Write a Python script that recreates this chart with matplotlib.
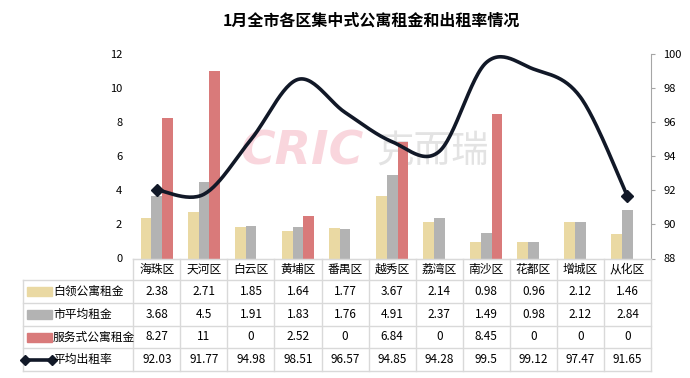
import numpy as np
import matplotlib
matplotlib.use("Agg")
import matplotlib.pyplot as plt
from matplotlib.transforms import blended_transform_factory
from matplotlib.lines import Line2D
from matplotlib.patches import Rectangle

plt.rcParams['font.family'] = ['Noto Sans CJK SC', 'DejaVu Sans']

# ========== 数据 ==========
districts = ["海珠区", "天河区", "白云区", "黄埔区", "番禺区", "越秀区",
             "荔湾区", "南沙区", "花都区", "增城区", "从化区"]
white_collar = [2.38, 2.71, 1.85, 1.64, 1.77, 3.67, 2.14, 0.98, 0.96, 2.12, 1.46]
city_avg = [3.68, 4.5, 1.91, 1.83, 1.76, 4.91, 2.37, 1.49, 0.98, 2.12, 2.84]
serviced = [8.27, 11, 0, 2.52, 0, 6.84, 0, 8.45, 0, 0, 0]
occupancy = [92.03, 91.77, 94.98, 98.51, 96.57, 94.85, 94.28, 99.5, 99.12, 97.47, 91.65]

series_names = ["白领公寓租金", "市平均租金", "服务式公寓租金", "平均出租率"]
colors = ["#EAD9A3", "#B3B3B3", "#D97A7A"]
line_color = "#111827"
grid_color = "#D9D9D9"

W, H = 690, 378


def smooth(xs, ys, n=30):
    # Excel 风格的平滑线 (Catmull-Rom / Bezier)
    xs = np.asarray(xs, float)
    ys = np.asarray(ys, float)
    px = np.concatenate([[xs[0]], xs, [xs[-1]]])
    py = np.concatenate([[ys[0]], ys, [ys[-1]]])
    out_x, out_y = [], []
    t = np.linspace(0, 1, n)
    for i in range(1, len(px) - 2):
        p0 = np.array([px[i - 1], py[i - 1]])
        p1 = np.array([px[i], py[i]])
        p2 = np.array([px[i + 1], py[i + 1]])
        p3 = np.array([px[i + 2], py[i + 2]])
        c1 = p1 + (p2 - p0) / 6
        c2 = p2 - (p3 - p1) / 6
        b = ((1 - t) ** 3)[:, None] * p1 + (3 * (1 - t) ** 2 * t)[:, None] * c1 \
            + (3 * (1 - t) * t ** 2)[:, None] * c2 + (t ** 3)[:, None] * p2
        out_x.extend(b[:, 0])
        out_y.extend(b[:, 1])
    return out_x, out_y


fig = plt.figure(figsize=(6.9, 3.78), dpi=100)
x0, x1, ytop, ybot = 133.3, 651, 54, 258.5
ax = fig.add_axes([x0 / W, 1 - ybot / H, (x1 - x0) / W, (ybot - ytop) / H])

x = np.arange(len(districts))
bw = 0.228
ax.bar(x - bw, white_collar, bw, color=colors[0], zorder=2)
ax.bar(x, city_avg, bw, color=colors[1], zorder=2)
ax.bar(x + bw, serviced, bw, color=colors[2], zorder=2)
ax.set_xlim(-0.5, len(districts) - 0.5)
ax.set_ylim(0, 12)
ax.set_yticks(range(0, 13, 2))
ax.set_xticks([])
ax.tick_params(axis='y', length=0, pad=8, labelsize=8)
for s in ["left", "right", "top"]:
    ax.spines[s].set_visible(False)
ax.spines["bottom"].set_color(grid_color)

# 水印
ax.text(0.326, 0.52, "CRIC", transform=ax.transAxes, fontsize=34, fontweight='bold',
        fontstyle='italic', color="#F7C9D2", alpha=0.75, ha='center', va='center',
        family='DejaVu Sans', zorder=1)
ax.text(0.578, 0.52, "克而瑞", transform=ax.transAxes, fontsize=27,
        color="#DCDCDC", alpha=0.8, ha='center', va='center', zorder=1)

ax2 = ax.twinx()
ax2.set_ylim(88, 100)
ax2.set_yticks(range(88, 101, 2))
sx, sy = smooth(x, occupancy)
ax2.plot(sx, sy, color=line_color, lw=2.6, zorder=3, solid_capstyle='round')
ax2.plot([x[0], x[-1]], [occupancy[0], occupancy[-1]], ls='none', marker='D',
         ms=6, color=line_color, zorder=4)
for s in ["left", "top", "bottom"]:
    ax2.spines[s].set_visible(False)
ax2.spines["right"].set_color("#A6A6A6")
ax2.tick_params(axis='y', length=3, color="#A6A6A6", pad=6, labelsize=8)

# 标题
fig.text(371 / W, 1 - 21 / H, "1月全市各区集中式公寓租金和出租率情况", ha='center', va='center',
         fontsize=11.5, fontweight='bold')

# ========== 数据表 ==========
bt = blended_transform_factory(ax.transData, fig.transFigure)
ft = fig.transFigure


def fy(py):
    return 1 - py / H


rows_y = [258.5, 280, 302.7, 325.7, 348.3, 371]
tab_left = 22.7
lw = 1.0

# 横线
fig.add_artist(Line2D([x0 / W, x1 / W], [fy(rows_y[0])] * 2, color=grid_color, lw=lw, transform=ft))
for py in rows_y[1:]:
    fig.add_artist(Line2D([tab_left / W, x1 / W], [fy(py)] * 2, color=grid_color, lw=lw, transform=ft))
# 竖线
fig.add_artist(Line2D([tab_left / W] * 2, [fy(rows_y[1]), fy(rows_y[-1])], color=grid_color, lw=lw, transform=ft))
for i in range(len(districts) + 1):
    fig.add_artist(Line2D([i - 0.5] * 2, [fy(rows_y[0]), fy(rows_y[-1])], color=grid_color,
                          lw=lw, transform=bt))

# 表头
for i, d in enumerate(districts):
    fig.text(i, fy((rows_y[0] + rows_y[1]) / 2), d, transform=bt, ha='center', va='center', fontsize=8.5)

table_rows = [white_collar, city_avg, serviced, occupancy]
for r, vals in enumerate(table_rows):
    yc = fy((rows_y[r + 1] + rows_y[r + 2]) / 2)
    for i, v in enumerate(vals):
        fig.text(i, yc, f"{v:g}", transform=bt, ha='center', va='center', fontsize=8.5)
    # 图例
    if r < 3:
        fig.add_artist(Rectangle((27 / W, yc - 4.5 / H), 25 / W, 9 / H, color=colors[r], transform=ft))
    else:
        fig.add_artist(Line2D([25 / W, 52 / W], [yc, yc], color=line_color, lw=2.6,
                              marker='D', ms=5, transform=ft))
    fig.text(53 / W, yc, series_names[r], ha='left', va='center', fontsize=8.5)

fig.savefig("out.png", dpi=100)
